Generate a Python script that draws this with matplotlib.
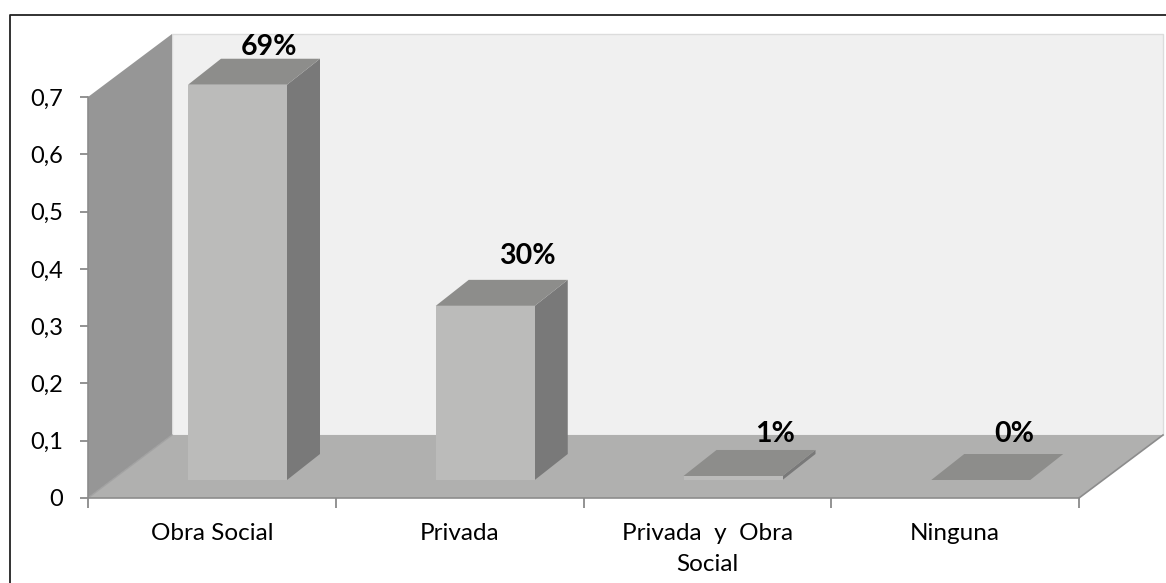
import matplotlib
matplotlib.use('Agg')
import matplotlib.pyplot as plt
from matplotlib.patches import Polygon

plt.rcParams['font.family'] = ['Lato', 'DejaVu Sans']

# Data
categories = ['Obra Social', 'Privada', 'Privada  y  Obra\nSocial', 'Ninguna']
values = [0.69, 0.304, 0.007, 0.0]
value_labels = ['69%', '30%', '1%', '0%']
yticks = [0, 0.1, 0.2, 0.3, 0.4, 0.5, 0.6, 0.7]
ytick_labels = ['0', '0,1', '0,2', '0,3', '0,4', '0,5', '0,6', '0,7']

W, H = 1166, 583
fig = plt.figure(figsize=(W / 100, H / 100), dpi=100)
fig.patch.set_facecolor('white')

# plot area in pixels: x 88..1079, y 97..498
ax = fig.add_axes([88 / W, (H - 498) / H, 991 / W, 401 / H])
ax.set_xlim(0, 4)
ax.set_ylim(0, 0.7)
ax.patch.set_visible(False)

px_x = 4 / 991
px_y = 0.7 / 401

# depth of the box and of the bars
wall_dx, wall_dy = 84 * px_x, 63 * px_y
bar_dx, bar_dy = 33 * px_x, 26 * px_y
bar_w = 99 * px_x
bar_left = 100 * px_x
bar_base = 18 * px_y


def poly(points, color, edge='none', z=1):
    ax.add_patch(Polygon(points, closed=True, facecolor=color, edgecolor=edge,
                         linewidth=1, clip_on=False, zorder=z))


top = 0.7
# back wall, side wall, floor
poly([(wall_dx, wall_dy), (4 + wall_dx, wall_dy), (4 + wall_dx, top + wall_dy),
      (wall_dx, top + wall_dy)], '#f0f0f0', '#dcdcdc')
poly([(0, 0), (wall_dx, wall_dy), (wall_dx, top + wall_dy), (0, top)], '#969696')
poly([(0, 0), (4, 0), (4 + wall_dx, wall_dy), (wall_dx, wall_dy)], '#b0b0af')
ax.plot([4, 4 + wall_dx], [0, wall_dy], color='#8c8c8c', lw=1.2, clip_on=False, zorder=2)
ax.plot([0, wall_dx], [0, wall_dy], color='#a2a2a2', lw=1, clip_on=False, zorder=2)

# bars
for i, v in enumerate(values):
    x0 = i + bar_left
    x1 = x0 + bar_w
    y0 = bar_base
    y1 = bar_base + v
    poly([(x1, y0), (x1 + bar_dx, y0 + bar_dy), (x1 + bar_dx, y1 + bar_dy), (x1, y1)], '#797979', z=3)
    poly([(x0, y1), (x1, y1), (x1 + bar_dx, y1 + bar_dy), (x0 + bar_dx, y1 + bar_dy)], '#8d8d8b', z=3)
    if v > 0:
        poly([(x0, y0), (x1, y0), (x1, y1), (x0, y1)], '#bbbbba', z=3)

# value labels, placed by hand like in the original
label_dx = [81, 92, 92, 83]
label_dy = [38, 50, 42, 46]
for i, v in enumerate(values):
    ax.text(i + bar_left + label_dx[i] * px_x, bar_base + v + label_dy[i] * px_y,
            value_labels[i], ha='center', va='center', fontsize=20.5,
            fontweight='bold', color='black', zorder=5, clip_on=False)

# axes
for side in ['top', 'right']:
    ax.spines[side].set_visible(False)
for side in ['left', 'bottom']:
    ax.spines[side].set_color('#8c8c8c')
    ax.spines[side].set_linewidth(1.2)
    ax.spines[side].set_zorder(4)

ax.set_yticks(yticks)
ax.set_yticklabels(ytick_labels)
ax.tick_params(axis='y', length=6, width=1.2, color='#808080', labelsize=17, pad=12, labelcolor='black')
ax.set_xticks(range(5))
ax.set_xticklabels([])
ax.tick_params(axis='x', which='major', length=7, width=1.2, color='#808080')
ax.set_xticks([i + 0.5 for i in range(4)], minor=True)
ax.set_xticklabels(categories, minor=True, linespacing=1.6)
ax.tick_params(axis='x', which='minor', length=0, labelsize=17.5, pad=18, labelcolor='black')

# chart area border
fig.add_artist(plt.Line2D([9.5 / W, 9.5 / W, 1], [0, 1 - 14.5 / H, 1 - 14.5 / H],
                          color='#222222', lw=1.3, transform=fig.transFigure))

fig.savefig('out.png', dpi=100)
